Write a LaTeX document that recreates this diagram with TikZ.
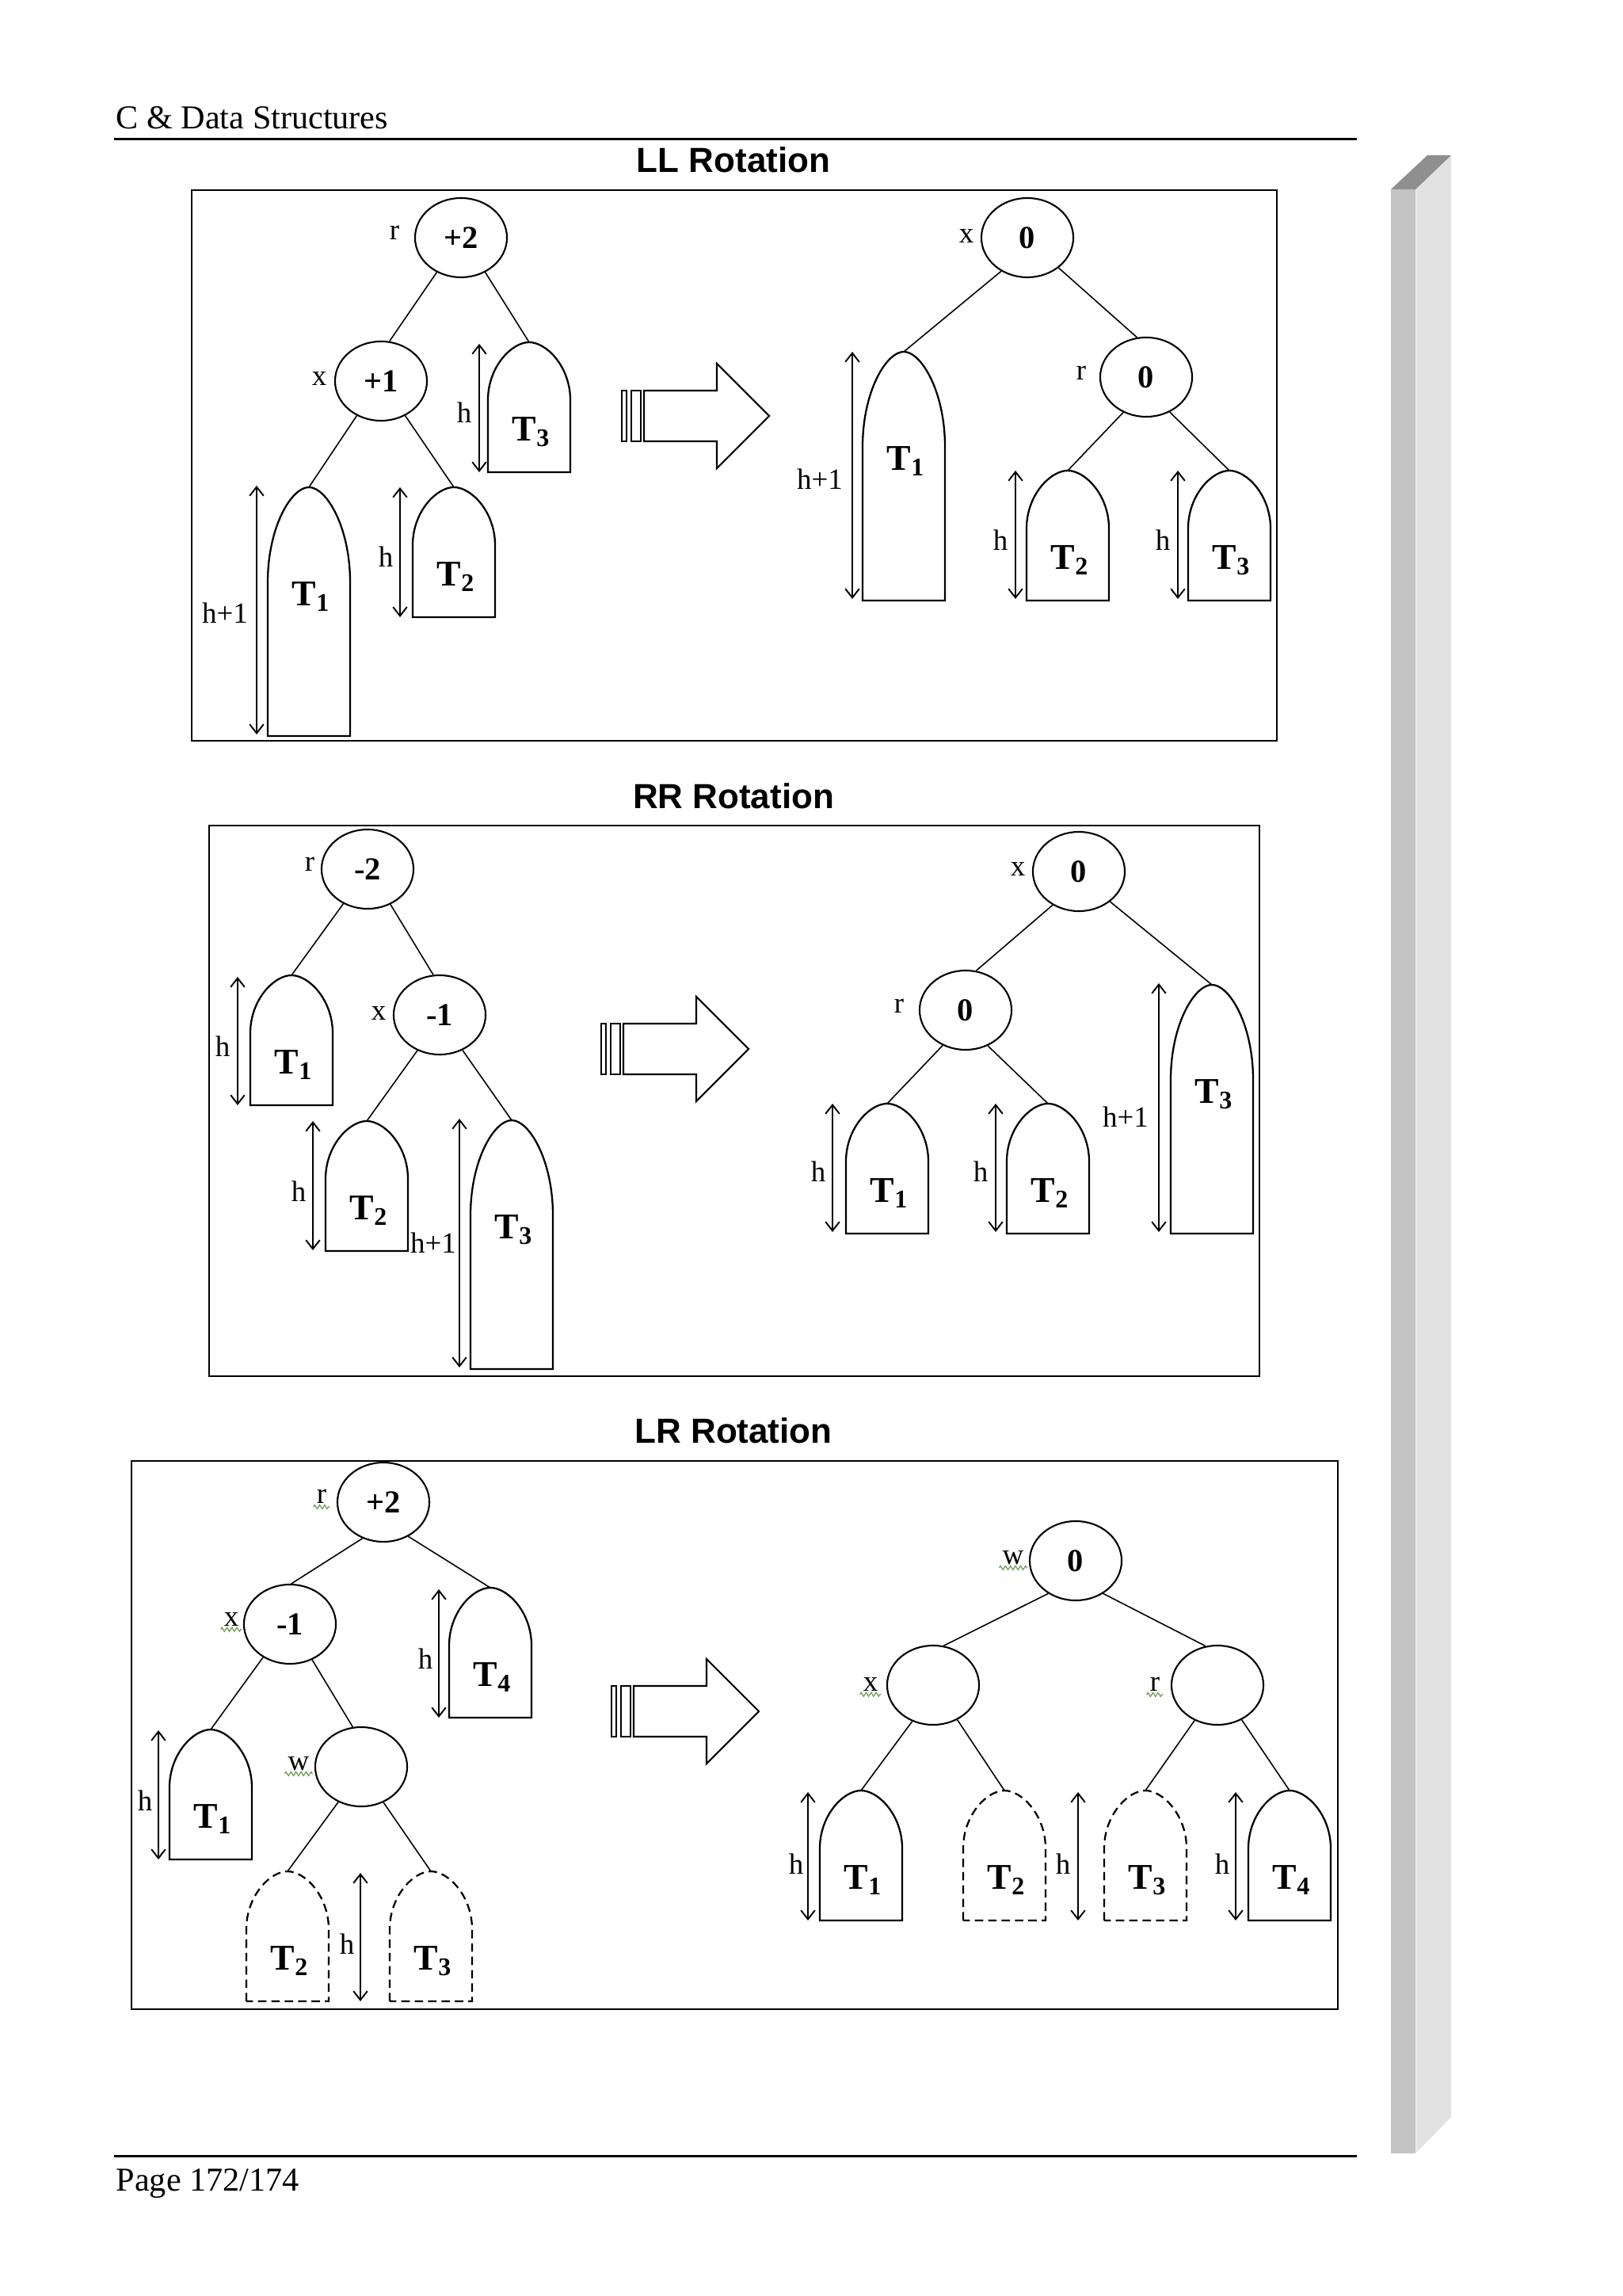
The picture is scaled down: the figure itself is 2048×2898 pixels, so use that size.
\documentclass[tikz,border=0pt]{standalone}
\usepackage{fontspec}
\setmainfont{Liberation Serif}
\setsansfont{Liberation Sans}
\usetikzlibrary{shapes.geometric,decorations.pathmorphing,arrows.meta}

\definecolor{barfront}{HTML}{C4C4C4}
\definecolor{barside}{HTML}{E1E1E1}
\definecolor{bartop}{HTML}{8F8F8F}
\definecolor{spellgreen}{HTML}{6E9A5A}

\newcommand{\shorttree}[5][]{%
  \coordinate (#2) at (#3,#4);
  \draw[tree,#1] ({#3-52},{#4+164}) -- ({#3-52},{#4+73})
    .. controls ({#3-52},{#4+31}) and ({#3-22},#4) .. (#2)
    .. controls ({#3+22},#4) and ({#3+52},{#4+31}) .. ({#3+52},{#4+73})
    -- ({#3+52},{#4+164}) -- cycle;
  \node[tname] (#2lab) at ({#3+3},{#4+113}) {#5};
}
\newcommand{\talltree}[5][]{%
  \coordinate (#2) at (#3,#4);
  \draw[tree,#1] ({#3-52},{#4+314}) -- ({#3-52},{#4+120})
    .. controls ({#3-52},{#4+50}) and ({#3-22},#4) .. (#2)
    .. controls ({#3+22},#4) and ({#3+52},{#4+50}) .. ({#3+52},{#4+120})
    -- ({#3+52},{#4+314}) -- cycle;
  \node[tname] (#2lab) at ({#3+3},{#4+138}) {#5};
}
\newcommand{\bigarrow}[3]{%
  \coordinate (#1) at (#2,#3);
  \draw[arrowbox] (#2,{#3-32}) rectangle ({#2+6},{#3+32});
  \draw[arrowbox] ({#2+12},{#3-32}) rectangle ({#2+24},{#3+32});
  \draw[arrowbox] ({#2+28},{#3-32}) -- ({#2+120},{#3-32}) -- ({#2+120},{#3-66})
    -- ({#2+186},#3) -- ({#2+120},{#3+66}) -- ({#2+120},{#3+32}) -- ({#2+28},{#3+32}) -- cycle;
}

\begin{document}
\begin{tikzpicture}[x=0.01cm,y=-0.01cm,
  bal/.style={ellipse,draw,line width=0.6pt,minimum width=1.16cm,minimum height=1cm,inner sep=0pt,font=\fontsize{11.5}{13}\selectfont\bfseries},
  nm/.style={inner sep=1pt,font=\fontsize{10.5}{12}\selectfont},
  tname/.style={inner sep=0pt,font=\fontsize{13}{15}\selectfont\bfseries},
  tree/.style={line width=0.65pt},
  edge/.style={line width=0.45pt},
  dim/.style={{Straight Barb[length=3.2pt,width=5pt]}-{Straight Barb[length=3.2pt,width=5pt]},line width=0.55pt},
  frame/.style={line width=0.7pt},
  arrowbox/.style={line width=0.6pt},
  dashtree/.style={dash pattern=on 3pt off 1.8pt},
  spell/.style={spellgreen,line width=0.35pt,decorate,decoration={zigzag,segment length=1.8pt,amplitude=0.7pt}},
  title/.style={font=\sffamily\bfseries\fontsize{12.5}{15}\selectfont,anchor=base}]
\fill[white] (0,0) rectangle (2048,2898);
\useasboundingbox (0,0) rectangle (2048,2898);

% page
\node[anchor=base west,inner sep=0pt,font=\fontsize{12}{14}\selectfont] (head) at (146,163) {C \& Data Structures};
\draw[line width=0.85pt] (144,176) -- (1713,176);
\draw[line width=0.85pt] (144,2721) -- (1713,2721);
\node[anchor=base west,inner sep=0pt,font=\fontsize{12}{14}\selectfont] (foot) at (146,2765) {Page 172/174};
\fill[barfront] (1756,239) rectangle (1787,2718);
\fill[barside] (1787,239) -- (1832,196) -- (1832,2672) -- (1787,2718) -- cycle;
\fill[bartop] (1756,239) -- (1787,239) -- (1832,196) -- (1802,196) -- cycle;
\draw[white!92!black,line width=0.5pt] (1788,239) -- (1788,2716);

% LL
\node[title] (lltitle) at (926,218) {LL Rotation};
\draw[frame] (242,240) rectangle (1612,935);
\node[bal] (llar) at (582,300) {+2};
\node[nm] (llarl) at (498,294) {r};
\node[bal] (llax) at (481,481) {+1};
\node[nm] (llaxl) at (403,478) {x};
\talltree{llaT1}{390}{615}{T\textsubscript{1}}
\shorttree{llaT2}{573}{615}{T\textsubscript{2}}
\shorttree{llaT3}{668}{432}{T\textsubscript{3}}
\draw[edge] (llar.-125) -- (llax.78);
\draw[edge] (llar.-55) -- (llaT3);
\draw[edge] (llax.-125) -- (llaT1);
\draw[edge] (llax.-55) -- (llaT2);
\draw[dim] (324,613) -- (324,927);
\node[nm] (llah1) at (284,774) {h+1};
\draw[dim] (505,615) -- (505,779);
\node[nm] (llah2) at (487,703) {h};
\draw[dim] (605,434) -- (605,596);
\node[nm] (llah3) at (586,521) {h};
\bigarrow{llarrow}{785}{525}
\node[bal] (llbx) at (1297,300) {0};
\node[nm] (llbxl) at (1220,298) {x};
\node[bal] (llbr) at (1447,476) {0};
\node[nm] (llbrl) at (1365,471) {r};
\talltree{llbT1}{1141}{444}{T\textsubscript{1}}
\shorttree{llbT2}{1348}{594}{T\textsubscript{2}}
\shorttree{llbT3}{1552}{594}{T\textsubscript{3}}
\draw[edge] (llbx.-128) -- (llbT1);
\draw[edge] (llbx.-44) -- (llbr.103);
\draw[edge] (llbr.-123) -- (llbT2);
\draw[edge] (llbr.-56) -- (llbT3);
\draw[dim] (1076,444) -- (1076,756);
\node[nm] (llbh1) at (1035,605) {h+1};
\draw[dim] (1282,594) -- (1282,756);
\node[nm] (llbh2) at (1263,682) {h};
\draw[dim] (1487,594) -- (1487,756);
\node[nm] (llbh3) at (1468,682) {h};

% RR
\node[title] (rrtitle) at (926,1021) {RR Rotation};
\draw[frame] (264,1042) rectangle (1590,1737);
\node[bal] (rrar) at (464,1097) {-2};
\node[nm] (rrarl) at (391,1091) {r};
\node[bal] (rrax) at (555,1281) {-1};
\node[nm] (rraxl) at (478,1279) {x};
\shorttree{rraT1}{368}{1231}{T\textsubscript{1}}
\shorttree{rraT2}{463}{1415}{T\textsubscript{2}}
\talltree{rraT3}{646}{1414}{T\textsubscript{3}}
\draw[edge] (rrar.-125) -- (rraT1);
\draw[edge] (rrar.-57) -- (rrax.99);
\draw[edge] (rrax.-122) -- (rraT2);
\draw[edge] (rrax.-57) -- (rraT3);
\draw[dim] (300,1233) -- (300,1395);
\node[nm] (rrah1) at (281,1321) {h};
\draw[dim] (395,1415) -- (395,1578);
\node[nm] (rrah2) at (377,1504) {h};
\draw[dim] (580,1412) -- (580,1726);
\node[nm] (rrah3) at (547,1569) {h+1};
\bigarrow{rrarrow}{759}{1324}
\node[bal] (rrbx) at (1362,1100) {0};
\node[nm] (rrbxl) at (1285,1097) {x};
\node[bal] (rrbr) at (1219,1275) {0};
\node[nm] (rrbrl) at (1135,1270) {r};
\shorttree{rrbT1}{1120}{1393}{T\textsubscript{1}}
\shorttree{rrbT2}{1323}{1393}{T\textsubscript{2}}
\talltree{rrbT3}{1530}{1243}{T\textsubscript{3}}
\draw[edge] (rrbx.-128) -- (rrbr.75);
\draw[edge] (rrbx.-44) -- (rrbT3);
\draw[edge] (rrbr.-123) -- (rrbT1);
\draw[edge] (rrbr.-58) -- (rrbT2);
\draw[dim] (1051,1393) -- (1051,1555);
\node[nm] (rrbh1) at (1033,1479) {h};
\draw[dim] (1257,1393) -- (1257,1555);
\node[nm] (rrbh2) at (1238,1479) {h};
\draw[dim] (1463,1241) -- (1463,1555);
\node[nm] (rrbh3) at (1421,1410) {h+1};

% LR
\node[title] (lrtitle) at (926,1821) {LR Rotation};
\draw[frame] (166,1844) rectangle (1689,2536);
\node[bal] (lrar) at (484,1896) {+2};
\node[nm] (lrarl) at (406,1889) {r};
\node[bal] (lrax) at (366,2050) {-1};
\node[nm] (lraxl) at (292,2044) {x};
\node[bal] (lraw) at (456,2230) {};
\node[nm] (lrawl) at (377,2226) {w};
\shorttree{lraT4}{619}{2004}{T\textsubscript{4}}
\shorttree{lraT1}{266}{2183}{T\textsubscript{1}}
\shorttree[dashtree]{lraT2}{363}{2362}{T\textsubscript{2}}
\shorttree[dashtree]{lraT3}{544}{2362}{T\textsubscript{3}}
\draw[edge] (lrar.-120) -- (lrax.88);
\draw[edge] (lrar.-54) -- (lraT4);
\draw[edge] (lrax.-129) -- (lraT1);
\draw[edge] (lrax.-58) -- (lraw.102);
\draw[edge] (lraw.-123) -- (lraT2);
\draw[edge] (lraw.-58) -- (lraT3);
\draw[dim] (554,2006) -- (554,2168);
\node[nm] (lrah4) at (537,2094) {h};
\draw[dim] (200,2184) -- (200,2347);
\node[nm] (lrah1) at (183,2273) {h};
\draw[dim] (455,2364) -- (455,2526);
\node[nm] (lrah2) at (438,2454) {h};
\draw[spell] (lrarl.south west) -- (lrarl.south east);
\draw[spell] (lraxl.south west) -- (lraxl.south east);
\draw[spell] (lrawl.south west) -- (lrawl.south east);
\bigarrow{lrarrow}{772}{2160}
\node[bal] (lrbw) at (1358,1970) {0};
\node[nm] (lrbwl) at (1279,1966) {w};
\node[bal] (lrbx) at (1178,2127) {};
\node[nm] (lrbxl) at (1099,2126) {x};
\node[bal] (lrbr) at (1537,2127) {};
\node[nm] (lrbrl) at (1458,2126) {r};
\shorttree{lrbT1}{1087}{2260}{T\textsubscript{1}}
\shorttree[dashtree]{lrbT2}{1268}{2260}{T\textsubscript{2}}
\shorttree[dashtree]{lrbT3}{1446}{2260}{T\textsubscript{3}}
\shorttree{lrbT4}{1628}{2260}{T\textsubscript{4}}
\draw[edge] (lrbw.-130) -- (lrbx.75);
\draw[edge] (lrbw.-50) -- (lrbr.107);
\draw[edge] (lrbx.-120) -- (lrbT1);
\draw[edge] (lrbx.-55) -- (lrbT2);
\draw[edge] (lrbr.-123) -- (lrbT3);
\draw[edge] (lrbr.-55) -- (lrbT4);
\draw[dim] (1020,2262) -- (1020,2424);
\node[nm] (lrbh1) at (1005,2353) {h};
\draw[dim] (1361,2262) -- (1361,2424);
\node[nm] (lrbh2) at (1342,2353) {h};
\draw[dim] (1560,2262) -- (1560,2424);
\node[nm] (lrbh3) at (1543,2353) {h};
\draw[spell] (lrbwl.south west) -- (lrbwl.south east);
\draw[spell] (lrbxl.south west) -- (lrbxl.south east);
\draw[spell] (lrbrl.south west) -- (lrbrl.south east);
\end{tikzpicture}
\end{document}
